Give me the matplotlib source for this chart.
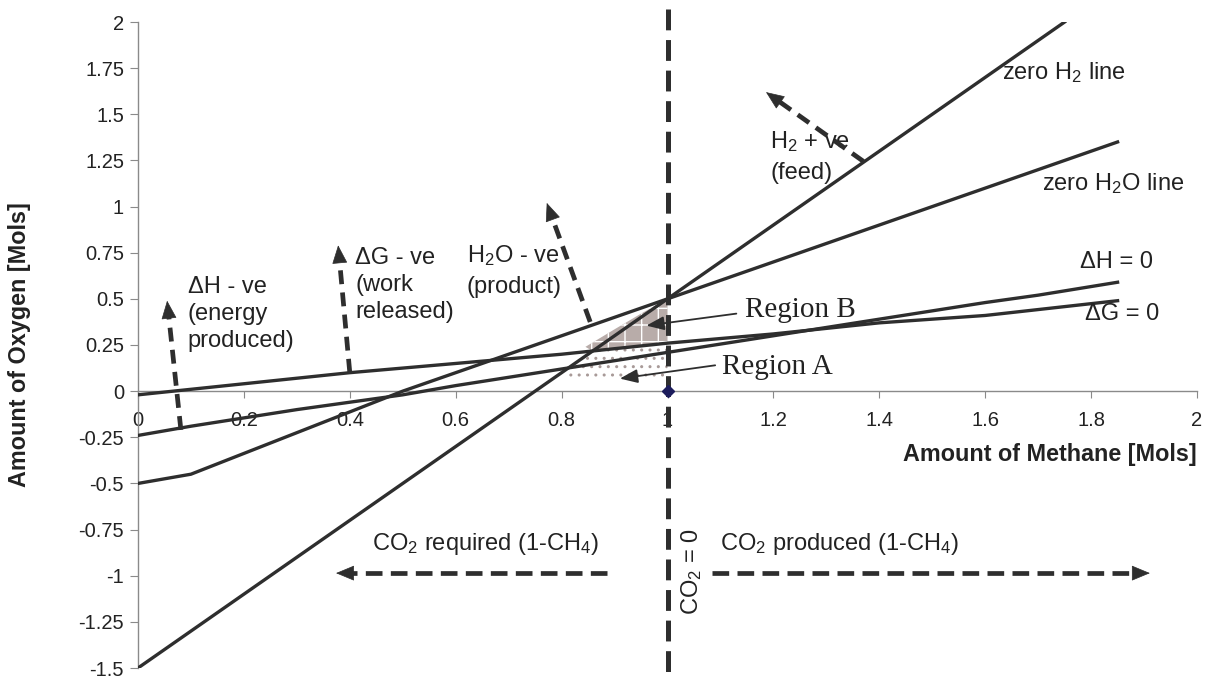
import matplotlib
matplotlib.use('Agg')
import matplotlib.pyplot as plt
import numpy as np
from matplotlib.ticker import FuncFormatter

# font setup
plt.rcParams['font.family'] = ['Liberation Sans', 'DejaVu Sans']
plt.rcParams['mathtext.fontset'] = 'custom'
plt.rcParams['mathtext.rm'] = 'Liberation Sans'
plt.rcParams['mathtext.default'] = 'regular'
plt.rcParams['axes.unicode_minus'] = False
plt.rcParams['lines.scale_dashes'] = False

DARK = '#2e2e2e'
TEXT = '#222222'
FS = 17

# data (x = methane, y = oxygen)
h2_x = [0.0, 0.25, 0.5, 0.55, 0.75, 1.0, 1.25, 1.5, 1.75]
h2_y = [-1.5, -1.0, -0.5, -0.4, 0.0, 0.5, 1.0, 1.5, 2.0]

h2o_x = [0.0, 0.1, 0.5, 1.0, 1.45, 1.5, 1.85]
h2o_y = [-0.5, -0.45, 0.0, 0.5, 0.95, 1.0, 1.35]

dh_x = [0.0, 0.1, 0.3, 0.5, 0.6, 0.8, 1.0, 1.2, 1.4, 1.6, 1.7, 1.85]
dh_y = [-0.24, -0.19, -0.10, -0.02, 0.03, 0.12, 0.21, 0.30, 0.39, 0.48, 0.52, 0.59]

dg_x = [0.0, 0.1, 0.2, 0.4, 0.6, 0.8, 1.0, 1.2, 1.4, 1.6, 1.85]
dg_y = [-0.02, 0.01, 0.04, 0.10, 0.15, 0.20, 0.26, 0.31, 0.37, 0.41, 0.49]

region_b_x = [0.86, 0.845, 0.90, 0.95, 1.0, 1.0]
region_b_y = [0.215, 0.24, 0.335, 0.42, 0.5, 0.255]

region_a_x = [0.80, 1.0, 1.0, 0.86]
region_a_y = [0.06, 0.06, 0.255, 0.215]

x_ticks = [0, 0.2, 0.4, 0.6, 0.8, 1, 1.2, 1.4, 1.6, 1.8, 2]
y_ticks = [-1.5, -1.25, -1, -0.75, -0.5, -0.25, 0, 0.25, 0.5, 0.75, 1, 1.25, 1.5, 1.75, 2]


def dash_arrow(ax, tail, tip, dashes=(10, 6), lw=3.4, head=1.2):
    # dashed shaft plus a solid filled head
    t = ax.transData
    p0 = t.transform(tail)
    p1 = t.transform(tip)
    d = p1 - p0
    u = d / np.hypot(*d)
    base = t.inverted().transform(p1 - u * 14)
    ax.plot([tail[0], base[0]], [tail[1], base[1]], color=DARK, lw=lw,
            ls=(0, dashes), dash_capstyle='butt', clip_on=False, zorder=4)
    ax.annotate('', xy=tip, xytext=base,
                arrowprops=dict(arrowstyle='-|>,head_length=%g,head_width=0.5' % head,
                                color=DARK, lw=0.5, shrinkA=0, shrinkB=0,
                                mutation_scale=10), zorder=4)


def thin_arrow(ax, tail, tip):
    ax.annotate('', xy=tip, xytext=tail,
                arrowprops=dict(arrowstyle='-|>,head_length=0.9,head_width=0.35',
                                color=DARK, lw=1.3, shrinkA=0, shrinkB=0,
                                mutation_scale=12), zorder=5)


fig = plt.figure(figsize=(12.22, 6.81), dpi=100)
ax = fig.add_axes([138 / 1222, 1 - 668 / 681, 1059 / 1222, 646 / 681])
ax.set_xlim(0, 2)
ax.set_ylim(-1.5, 2)

# spines
for s in ['top', 'right']:
    ax.spines[s].set_visible(False)
ax.spines['bottom'].set_position(('data', 0))
for s in ['left', 'bottom']:
    ax.spines[s].set_color('#8a8a8a')
    ax.spines[s].set_linewidth(1.0)

ax.set_xticks(x_ticks)
ax.set_yticks(y_ticks)
fmt = FuncFormatter(lambda v, p: '%g' % v)
ax.xaxis.set_major_formatter(fmt)
ax.yaxis.set_major_formatter(fmt)
ax.tick_params(axis='x', direction='out', length=5, color='#8a8a8a', pad=9,
               labelsize=14.5, labelcolor=TEXT)
ax.tick_params(axis='y', direction='out', length=6, color='#8a8a8a', pad=4,
               labelsize=14.5, labelcolor=TEXT)

# shaded regions
ax.fill(region_b_x, region_b_y, facecolor='#b8aca9', edgecolor='white',
        hatch='+', lw=0, zorder=1.5)
ax.fill(region_a_x, region_a_y, facecolor='none', edgecolor='#a89a98',
        hatch='..', lw=0, zorder=1.5)

# data lines
for xs, ys in [(h2_x, h2_y), (h2o_x, h2o_y), (dh_x, dh_y), (dg_x, dg_y)]:
    ax.plot(xs, ys, color=DARK, lw=2.4, zorder=3, solid_joinstyle='round')

# CO2 = 0 line
ax.plot([1, 1], [2.07, -1.58], color=DARK, lw=3.6, ls=(0, (15, 7)),
        dash_capstyle='butt', clip_on=False, zorder=4)
ax.plot([1], [0], marker='D', color='#1c1c5c', ms=6, zorder=5, clip_on=False)

# line labels
ax.text(1.632, 1.728, 'zero H$_2$ line', fontsize=FS, color=TEXT, va='center')
ax.text(1.707, 1.127, 'zero H$_2$O line', fontsize=FS, color=TEXT, va='center')
ax.text(1.779, 0.70, '\u0394H = 0', fontsize=FS, color=TEXT, va='center')
ax.text(1.788, 0.42, '\u0394G = 0', fontsize=FS, color=TEXT, va='center')

# direction labels and arrows
ax.text(1.194, 1.42, 'H$_2$ + ve\n(feed)', fontsize=FS, color=TEXT, va='top',
        linespacing=1.45)
dash_arrow(ax, (1.37, 1.245), (1.186, 1.62))

ax.text(0.094, 0.625, '\u0394H - ve\n(energy\nproduced)', fontsize=FS, color=TEXT,
        va='top', linespacing=1.3)
dash_arrow(ax, (0.081, -0.21), (0.055, 0.49))

ax.text(0.41, 0.78, '\u0394G - ve\n(work\nreleased)', fontsize=FS, color=TEXT,
        va='top', linespacing=1.3)
dash_arrow(ax, (0.40, 0.10), (0.378, 0.79))

ax.text(0.621, 0.80, 'H$_2$O - ve\n(product)', fontsize=FS, color=TEXT,
        va='top', linespacing=1.45)
dash_arrow(ax, (0.854, 0.375), (0.772, 1.02))

ax.text(0.657, -0.83, 'CO$_2$ required (1-CH$_4$)', fontsize=FS, color=TEXT,
        ha='center', va='center')
dash_arrow(ax, (0.886, -0.986), (0.374, -0.986), dashes=(12, 6))

ax.text(1.10, -0.83, 'CO$_2$ produced (1-CH$_4$)', fontsize=FS, color=TEXT,
        ha='left', va='center')
dash_arrow(ax, (1.084, -0.986), (1.911, -0.986), dashes=(12, 6))

ax.text(1.045, -0.98, 'CO$_2$ = 0', fontsize=FS, color=TEXT, rotation=90,
        ha='center', va='center')

# region labels
ax.text(1.146, 0.44, 'Region B', fontsize=21, color=TEXT, va='center',
        family='Liberation Serif')
thin_arrow(ax, (1.13, 0.42), (0.96, 0.355))
ax.text(1.103, 0.13, 'Region A', fontsize=21, color=TEXT, va='center',
        family='Liberation Serif')
thin_arrow(ax, (1.09, 0.14), (0.91, 0.068))

# axis titles
ax.text(2.0, -0.345, 'Amount of Methane [Mols]', fontsize=16.8, fontweight='bold',
        color=TEXT, ha='right', va='center')
fig.text(20 / 1222, 1 - 345 / 681, 'Amount of Oxygen [Mols]', fontsize=16.8,
         fontweight='bold', color=TEXT, rotation=90, ha='center', va='center')

fig.savefig('out.png', dpi=100)
